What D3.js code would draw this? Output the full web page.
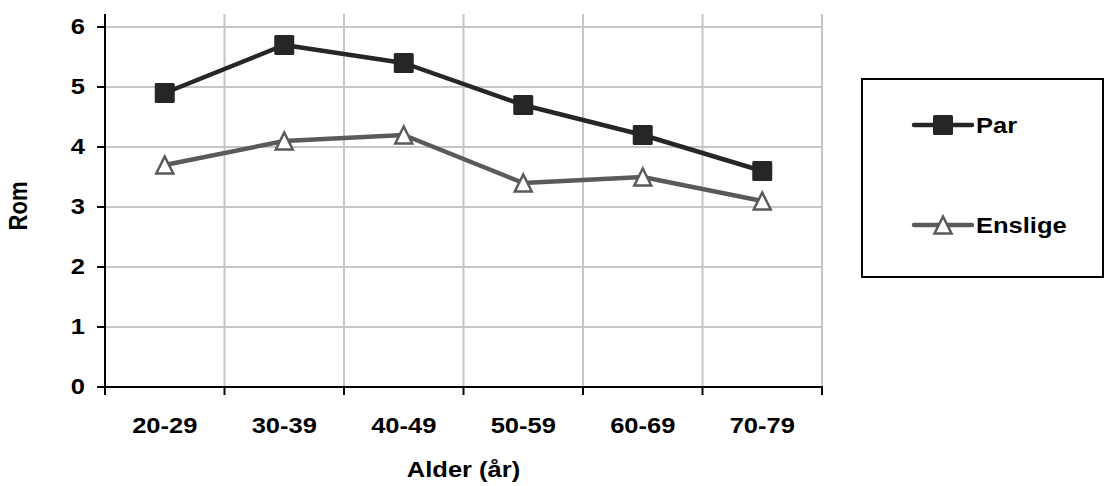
<!DOCTYPE html>
<html>
<head>
<meta charset="utf-8">
<script src="https://cdn.jsdelivr.net/npm/d3@7"></script>
<style>
  html, body { margin: 0; padding: 0; background: #fff; }
  svg text { font-family: "Liberation Sans", Arial, sans-serif; font-weight: bold; fill: #000; }
</style>
</head>
<body>
<svg id="chart" width="1111" height="486"></svg>
<script>
// Average number of rooms by age group
const categories = ["20-29", "30-39", "40-49", "50-59", "60-69", "70-79"];
const parValues = [4.9, 5.7, 5.4, 4.7, 4.2, 3.6];
const ensligeValues = [3.7, 4.1, 4.2, 3.4, 3.5, 3.1];
const seriesNames = ["Par", "Enslige"];
const yTicks = [0, 1, 2, 3, 4, 5, 6];
const xTitle = "Alder (år)";
const yTitle = "Rom";

const svg = d3.select("#chart");
const plot = { left: 105, right: 822, top: 14, bottom: 387 };
const fontSize = 22;
const stretch = 1.16;

const x = d3.scaleBand().domain(categories).range([plot.left, plot.right]).padding(0);
const y = d3.scaleLinear().domain([0, 6]).range([plot.bottom, 27]);

// gridlines
const grid = svg.append("g").attr("stroke", "#c6c6c6").attr("stroke-width", 2);
grid.selectAll("line.h").data(yTicks.filter(d => d > 0)).enter().append("line")
  .attr("x1", plot.left).attr("x2", plot.right)
  .attr("y1", d => y(d)).attr("y2", d => y(d));
grid.selectAll("line.v").data(categories).enter().append("line")
  .attr("x1", d => x(d) + x.bandwidth()).attr("x2", d => x(d) + x.bandwidth())
  .attr("y1", plot.top).attr("y2", plot.bottom);

// axes
const axisG = svg.append("g").attr("stroke", "#000").attr("stroke-width", 2);
axisG.append("line").attr("x1", plot.left).attr("x2", plot.left).attr("y1", plot.top).attr("y2", plot.bottom + 1);
axisG.append("line").attr("x1", plot.left - 8).attr("x2", plot.right + 1).attr("y1", plot.bottom).attr("y2", plot.bottom);
axisG.selectAll("line.yt").data(yTicks).enter().append("line")
  .attr("x1", plot.left - 8).attr("x2", plot.left).attr("y1", d => y(d)).attr("y2", d => y(d));
const xEdges = [plot.left].concat(categories.map(c => x(c) + x.bandwidth()));
axisG.selectAll("line.xt").data(xEdges).enter().append("line")
  .attr("x1", d => d).attr("x2", d => d).attr("y1", plot.bottom).attr("y2", plot.bottom + 8);

function stretchedText(g, tx, ty, str, anchor, rotate) {
  return g.append("text")
    .attr("transform", `translate(${tx},${ty}) scale(${stretch},1)` + (rotate ? ` rotate(${rotate})` : ""))
    .attr("text-anchor", anchor)
    .attr("font-size", fontSize)
    .text(str);
}

const labels = svg.append("g");
yTicks.forEach(t => stretchedText(labels, 85, y(t) + 7, String(t), "end"));
categories.forEach(c => stretchedText(labels, x(c) + x.bandwidth() / 2, 433, c, "middle"));
stretchedText(labels, (plot.left + plot.right) / 2, 477, xTitle, "middle");
stretchedText(labels, 27, 206, yTitle, "middle", -90);

// series
const series = [
  { name: seriesNames[0], values: parValues, color: "#262626", marker: "square" },
  { name: seriesNames[1], values: ensligeValues, color: "#5a5a5a", marker: "triangle" }
];

const line = d3.line().x((d, i) => x(categories[i]) + x.bandwidth() / 2).y(d => y(d));

function drawMarker(g, cx, cy, s) {
  if (s.marker === "square") {
    g.append("rect").attr("x", cx - 10).attr("y", cy - 10).attr("width", 20).attr("height", 20)
      .attr("rx", 1.5).attr("fill", s.color);
  } else {
    g.append("path")
      .attr("d", `M${cx},${cy - 8.5} L${cx + 8.5},${cy + 8.5} L${cx - 8.5},${cy + 8.5} Z`)
      .attr("fill", "#fff").attr("stroke", s.color).attr("stroke-width", 2.5).attr("stroke-linejoin", "miter");
  }
}

series.slice().reverse().forEach(s => {
  const g = svg.append("g");
  g.append("path").datum(s.values).attr("d", line)
    .attr("fill", "none").attr("stroke", s.color).attr("stroke-width", 4.5)
    .attr("stroke-linejoin", "round").attr("stroke-linecap", "round");
  s.values.forEach((v, i) => drawMarker(g, x(categories[i]) + x.bandwidth() / 2, y(v), s));
});

// legend
const legend = svg.append("g");
legend.append("rect").attr("x", 862).attr("y", 79).attr("width", 241).attr("height", 198)
  .attr("fill", "#fff").attr("stroke", "#000").attr("stroke-width", 2);
const legendY = [125, 225];
series.forEach((s, i) => {
  const ly = legendY[i];
  legend.append("line").attr("x1", 914).attr("x2", 972).attr("y1", ly).attr("y2", ly)
    .attr("stroke", s.color).attr("stroke-width", 4.5).attr("stroke-linecap", "round");
  drawMarker(legend, 943, ly, s);
  stretchedText(legend, 976, ly + 8, s.name, "start");
});
</script>
</body>
</html>
